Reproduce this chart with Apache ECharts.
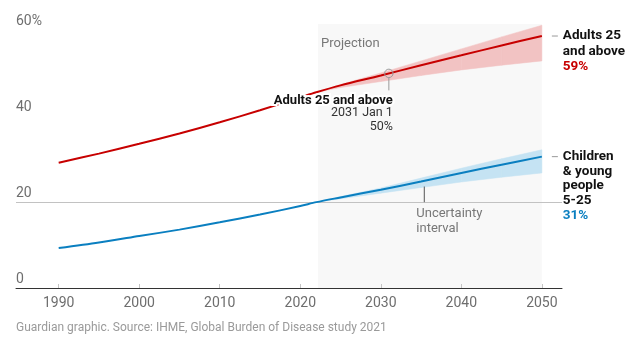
<!DOCTYPE html>
<html><head><meta charset="utf-8">
<script src="https://cdn.jsdelivr.net/npm/echarts@6/dist/echarts.min.js"></script>
<style>html,body{margin:0;padding:0;background:#fff}#c{width:640px;height:346px}</style>
</head><body><div id="c"></div>
<script>
// ---- data ----
const years = [1990, 1995, 2000, 2005, 2010, 2015, 2020, 2022, 2025, 2030, 2035, 2040, 2045, 2050];
const adults = [29.2, 31.3, 33.6, 36.0, 38.6, 41.4, 44.4, 45.6, 47.2, 49.5, 51.9, 54.2, 56.5, 58.7];
const children = [9.3, 10.6, 12.1, 13.6, 15.3, 17.1, 19.1, 20.0, 21.1, 22.9, 24.8, 26.8, 28.7, 30.6];
const bandYears = [2022, 2025, 2030, 2035, 2040, 2045, 2050];
const adultsLower = [45.6, 46.7, 48.1, 49.5, 50.8, 51.9, 52.9];
const adultsUpper = [45.6, 47.4, 50.1, 52.9, 55.7, 58.5, 61.2];
const childrenLower = [20.0, 20.8, 22.1, 23.4, 24.7, 25.8, 26.8];
const childrenUpper = [20.0, 21.3, 23.3, 25.6, 27.9, 30.1, 32.2];
const xTicks = [1990, 2000, 2010, 2020, 2030, 2040, 2050];
const yTicks = [0, 20, 40, 60];
const projection = [2022.2, 2050];
const highlight = { year: 2031, value: 50, label: 'Adults 25 and above', date: '2031 Jan 1', text: '50%' };
const uncertaintyAt = [2035.4, 24.8];
const endLabels = {
  adults: { lines: ['Adults 25', 'and above'], value: '59%' },
  children: { lines: ['Children', '& young', 'people', '5-25'], value: '31%' }
};
const source = 'Guardian graphic. Source: IHME, Global Burden of Disease study 2021';

// ---- chart ----
const FONT = 'Roboto, "Open Sans", sans-serif';
const RED = '#c70000', BLUE = '#0a7fc0';
const pairs = (xs, ys) => xs.map((x, i) => [x, ys[i]]);
const bandRows = (xs, lo, hi) => xs.map((x, i) => [x, lo[i], hi[i]]);

function bandSeries(xs, lo, hi, color) {
  return {
    type: 'custom', silent: true, z: 2,
    data: bandRows(xs, lo, hi),
    encode: { x: 0, y: [1, 2] },
    renderItem: function (params, api) {
      const i = params.dataIndex;
      if (i === 0) return null;
      const a = api.coord([xs[i - 1], lo[i - 1]]);
      const b = api.coord([xs[i], lo[i]]);
      const c = api.coord([xs[i], hi[i]]);
      const d = api.coord([xs[i - 1], hi[i - 1]]);
      return { type: 'polygon', shape: { points: [a, b, c, d] }, style: { fill: color, stroke: color, lineWidth: 0.5 } };
    }
  };
}

const chart = echarts.init(document.getElementById('c'), null, { renderer: 'canvas' });
const option = {
  animation: false,
  backgroundColor: '#fff',
  grid: { left: 16, right: 78, top: 24, bottom: 58 },
  xAxis: {
    type: 'value', min: 1984.7, max: 2052.5,
    splitLine: { show: false },
    axisLine: { lineStyle: { color: '#333', width: 1 } },
    axisTick: { show: true, inside: true, length: 4, lineStyle: { color: '#c4c4c4' }, customValues: xTicks },
    axisLabel: { customValues: xTicks, color: '#6e6e6e', fontSize: 14, fontFamily: FONT, margin: 8, formatter: v => String(v) }
  },
  yAxis: {
    type: 'value', min: 0, max: 61.5, interval: 20,
    axisLine: { show: false }, axisTick: { show: false }, splitLine: { show: false },
    axisLabel: {
      inside: true, margin: 0, verticalAlign: 'bottom', padding: [0, 0, 2, 0],
      color: '#6e6e6e', fontSize: 14, fontFamily: FONT,
      formatter: v => yTicks.indexOf(v) < 0 ? '' : (v === 60 ? '60%' : String(v))
    }
  },
  series: [
    {
      type: 'line', data: [], symbol: 'none', silent: true, z: 0,
      markArea: { silent: true, z: 0, itemStyle: { color: '#f8f8f8', opacity: 1 }, data: [[{ xAxis: projection[0] }, { xAxis: projection[1] }]] },
      markLine: { silent: true, z: 1, symbol: 'none', label: { show: false }, lineStyle: { color: '#c2c2c2', width: 1, type: 'solid' }, data: [{ yAxis: 20 }] }
    },
    bandSeries(bandYears, adultsLower, adultsUpper, '#f2c3c3'),
    bandSeries(bandYears, childrenLower, childrenUpper, '#c5e3f3'),
    { type: 'line', data: pairs(years, adults), symbol: 'none', smooth: 0.3, lineStyle: { color: RED, width: 2 }, z: 3 },
    { type: 'line', data: pairs(years, children), symbol: 'none', smooth: 0.3, lineStyle: { color: BLUE, width: 2 }, z: 3 }
  ]
};
chart.setOption(option);

function px(x, y) { return chart.convertToPixel({ gridIndex: 0 }, [x, y]); }
const g = [];
// Projection label
const pp = px(projection[0], 57);
g.push({ type: 'text', x: pp[0] + 3, y: pp[1], z: 10, style: { text: 'Projection', font: '13px ' + FONT, fill: '#777', verticalAlign: 'middle' } });
// highlight (static tooltip)
const hp = px(highlight.year, highlight.value);
g.push({ type: 'circle', shape: { cx: hp[0], cy: hp[1], r: 4.2 }, z: 10, style: { fill: 'none', stroke: '#9a9a9a', lineWidth: 1 } });
g.push({ type: 'line', shape: { x1: hp[0], y1: hp[1] + 4.5, x2: hp[0], y2: hp[1] + 17 }, z: 10, style: { stroke: '#9a9a9a', lineWidth: 1 } });
g.push({ type: 'text', x: hp[0] + 4, y: hp[1] + 27, z: 10, style: { text: highlight.label, font: 'bold 13px ' + FONT, fill: '#121212', align: 'right', verticalAlign: 'middle', stroke: '#fff', lineWidth: 4 } });
g.push({ type: 'text', x: hp[0] + 4, y: hp[1] + 40, z: 10, style: { text: highlight.date, font: '12.5px ' + FONT, fill: '#333', align: 'right', verticalAlign: 'middle' } });
g.push({ type: 'text', x: hp[0] + 4, y: hp[1] + 54, z: 10, style: { text: highlight.text, font: '12.5px ' + FONT, fill: '#333', align: 'right', verticalAlign: 'middle' } });
// Uncertainty pointer
const up = px(uncertaintyAt[0], uncertaintyAt[1]);
const g20 = px(uncertaintyAt[0], 20);
g.push({ type: 'line', shape: { x1: up[0], y1: up[1] + 5, x2: up[0], y2: g20[1] }, z: 10, style: { stroke: '#555', lineWidth: 1 } });
g.push({ type: 'text', x: up[0] - 8, y: g20[1] + 4.5, z: 10, style: { text: 'Uncertainty\ninterval', font: '13px ' + FONT, fill: '#777', lineHeight: 15, verticalAlign: 'top' } });
// End labels
function endLabel(xv, yv, info, color, lh) {
  const p = px(xv, yv);
  g.push({ type: 'line', shape: { x1: p[0] + 10, y1: p[1], x2: p[0] + 16, y2: p[1] }, z: 10, style: { stroke: '#999', lineWidth: 1 } });
  const txt = info.lines.map(l => '{b|' + l + '}').join('\n') + '\n{v|' + info.value + '}';
  g.push({ type: 'text', x: p[0] + 21, y: p[1] - lh / 2, z: 10, style: {
    text: txt, verticalAlign: 'top',
    rich: {
      b: { font: 'bold 13.5px ' + FONT, fill: '#121212', lineHeight: lh },
      v: { font: 'bold 13.5px ' + FONT, fill: color, lineHeight: lh }
    }
  } });
}
endLabel(2050, adults[adults.length - 1], endLabels.adults, RED, 15.5);
endLabel(2050, children[children.length - 1], endLabels.children, BLUE, 14.7);
// source
g.push({ type: 'text', x: 16, y: 327.5, style: { text: source, font: '12px ' + FONT, fill: '#9a9a9a', verticalAlign: 'middle' } });
chart.setOption({ graphic: g });
</script>
</body></html>
